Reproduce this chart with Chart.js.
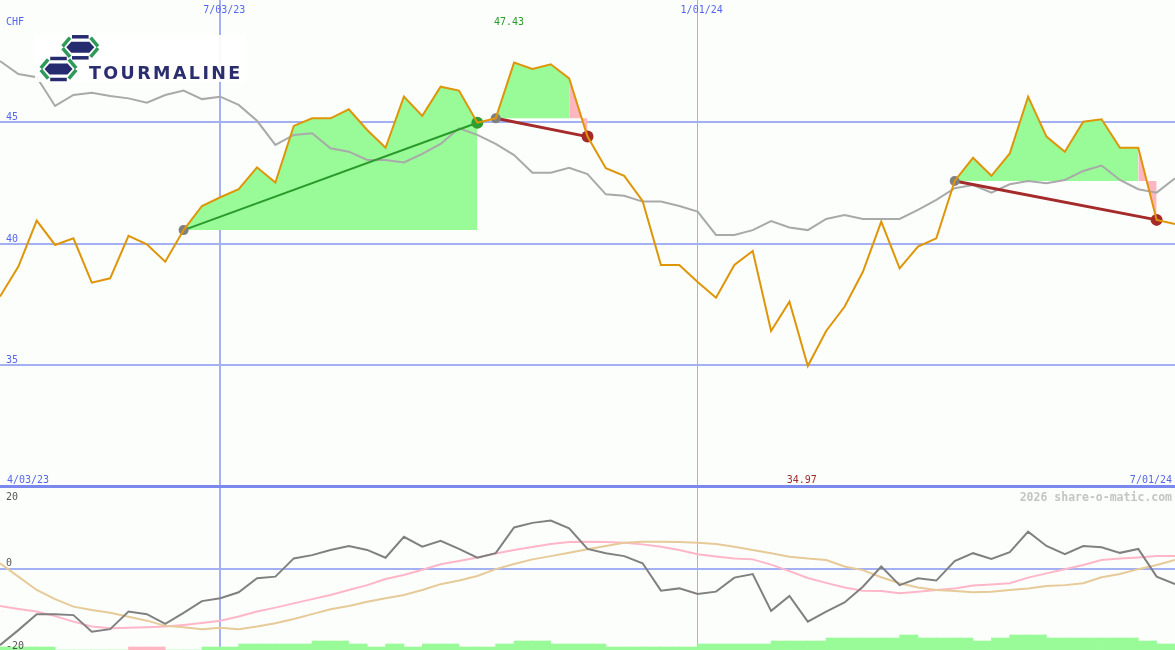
<!DOCTYPE html>
<html>
<head>
<meta charset="utf-8">
<title>Tourmaline (CHF) weekly</title>
<script src="https://cdn.jsdelivr.net/npm/chart.js@4.4.1/dist/chart.umd.min.js"></script>
<style>
  html, body { margin: 0; padding: 0; background: #fcfefc; }
  #wrap { position: relative; width: 1175px; height: 650px; overflow: hidden; background: #fcfefc; }
  #price { position: absolute; left: 0; top: 0; }
  #osc { position: absolute; left: 0; top: 487px; }
  .divider { position: absolute; left: 0; top: 485px; width: 1175px; height: 3px; background: #7b88ee; }
  .logo { position: absolute; left: 35px; top: 35px; }
</style>
</head>
<body>
<div id="wrap">
  <canvas id="price" width="1175" height="487"></canvas>
  <canvas id="osc" width="1175" height="163"></canvas>
  <div class="divider"></div>
  <svg class="logo" width="212" height="48" viewBox="0 0 212 48">
    <rect x="0" y="0" width="210" height="47" fill="#ffffff" fill-opacity="0.92"/>
    <!-- upper hexagon: diagonals green, flat edges navy -->
    <g stroke-width="3.5" fill="none">
      <line x1="27.6" y1="11.4" x2="35.0" y2="2.7" stroke="#2e9a5a"/>
      <line x1="37" y1="1.8" x2="53.6" y2="1.8" stroke="#262a6e"/>
      <line x1="55.6" y1="2.7" x2="63.0" y2="11.4" stroke="#2e9a5a"/>
      <line x1="63.0" y1="13.2" x2="55.6" y2="21.9" stroke="#2e9a5a"/>
      <line x1="53.6" y1="22.8" x2="37" y2="22.8" stroke="#262a6e"/>
      <line x1="35.0" y1="21.9" x2="27.6" y2="13.2" stroke="#2e9a5a"/>
    </g>
    <polygon points="31.3,12.3 36.3,6.8 54.3,6.8 59.3,12.3 54.3,17.8 36.3,17.8" fill="#262a6e"/>
    <!-- lower hexagon -->
    <g stroke-width="3.5" fill="none">
      <line x1="5.8" y1="33.1" x2="13.2" y2="24.4" stroke="#2e9a5a"/>
      <line x1="15.2" y1="23.5" x2="31.8" y2="23.5" stroke="#262a6e"/>
      <line x1="33.8" y1="24.4" x2="41.2" y2="33.1" stroke="#2e9a5a"/>
      <line x1="41.2" y1="34.9" x2="33.8" y2="43.6" stroke="#2e9a5a"/>
      <line x1="31.8" y1="44.5" x2="15.2" y2="44.5" stroke="#262a6e"/>
      <line x1="13.2" y1="43.6" x2="5.8" y2="34.9" stroke="#2e9a5a"/>
    </g>
    <polygon points="9.5,34 14.5,28.5 32.5,28.5 37.5,34 32.5,39.5 14.5,39.5" fill="#262a6e"/>
    <text x="54" y="44.3" font-family="DejaVu Sans, Verdana, sans-serif" font-weight="bold"
          font-size="17.5" letter-spacing="2.4" fill="#2b2e6e">TOURMALINE</text>
  </svg>
</div>

<script>
// weekly closes, CHF
const dates = [
  "4/10/23", "4/17/23", "4/24/23", "5/01/23", "5/08/23", "5/15/23", "5/22/23", "5/29/23",
  "6/05/23", "6/12/23", "6/19/23", "6/26/23", "7/03/23", "7/10/23", "7/17/23", "7/24/23",
  "7/31/23", "8/07/23", "8/14/23", "8/21/23", "8/28/23", "9/04/23", "9/11/23", "9/18/23",
  "9/25/23", "10/02/23", "10/09/23", "10/16/23", "10/23/23", "10/30/23", "11/06/23", "11/13/23",
  "11/20/23", "11/27/23", "12/04/23", "12/11/23", "12/18/23", "12/25/23", "1/01/24", "1/08/24",
  "1/15/24", "1/22/24", "1/29/24", "2/05/24", "2/12/24", "2/19/24", "2/26/24", "3/04/24",
  "3/11/24", "3/18/24", "3/25/24", "4/01/24", "4/08/24", "4/15/24", "4/22/24", "4/29/24",
  "5/06/24", "5/13/24", "5/20/24", "5/27/24", "6/03/24", "6/10/24", "6/17/24", "6/24/24",
  "7/01/24"
];
const periodStart = "4/03/23";
const gridDates = ["7/03/23", "1/01/24"];

const price = [
  37.82, 39.05, 40.94, 39.94, 40.21, 38.39, 38.57, 40.31, 39.97, 39.25,
  40.55, 41.54, 41.90, 42.23, 43.13, 42.50, 44.83, 45.14, 45.14, 45.51,
  44.66, 43.93, 46.03, 45.24, 46.44, 46.28, 44.96, 45.14, 47.43, 47.17,
  47.36, 46.78, 44.39, 43.09, 42.78, 41.75, 39.12, 39.12, 38.42, 37.77,
  39.12, 39.69, 36.41, 37.61, 34.97, 36.41, 37.40, 38.84, 40.90, 38.98,
  39.87, 40.21, 42.57, 43.52, 42.78, 43.70, 46.03, 44.39, 43.77, 45.00,
  45.10, 43.93, 43.93, 40.97, 40.80
];
const movingAvg = [
  47.49, 46.96, 46.83, 45.65, 46.10, 46.19, 46.06, 45.96, 45.78, 46.10,
  46.28, 45.93, 46.03, 45.69, 45.04, 44.05, 44.46, 44.53, 43.91, 43.77,
  43.43, 43.43, 43.33, 43.68, 44.09, 44.73, 44.46, 44.09, 43.63, 42.91,
  42.91, 43.11, 42.85, 42.02, 41.96, 41.72, 41.72, 41.54, 41.31, 40.35,
  40.35, 40.55, 40.92, 40.66, 40.55, 41.01, 41.17, 41.01, 41.01, 41.01,
  41.38, 41.79, 42.27, 42.40, 42.09, 42.43, 42.57, 42.47, 42.61, 42.98,
  43.20, 42.61, 42.23, 42.09, 42.68
];

// lower panel
const momentum = [
  -23.5, -18.9, -14.0, -14.0, -14.3, -19.4, -18.6, -13.2, -14.0, -17.0,
  -13.6, -10.0, -9.1, -7.3, -3.0, -2.5, 3.1, 4.1, 5.7, 6.9,
  5.7, 3.3, 9.7, 6.7, 8.5, 6.0, 3.3, 4.7, 12.6, 14.0,
  14.7, 12.3, 6.0, 4.7, 3.8, 1.6, -6.8, -6.1, -7.8, -7.1,
  -2.8, -1.7, -13.0, -8.4, -16.3, -13.2, -10.4, -5.6, 0.6, -5.1,
  -3.0, -3.7, 2.3, 4.7, 2.9, 5.0, 11.3, 6.9, 4.4, 6.9,
  6.5, 4.8, 6.0, -2.5, -4.8
];
const fastAvg = [
  -11.5, -12.4, -13.2, -14.6, -16.3, -17.8, -18.3, -18.2, -18.0, -17.8,
  -17.3, -16.7, -16.0, -14.7, -13.2, -12.0, -10.7, -9.4, -8.1, -6.6,
  -5.1, -3.2, -2.0, -0.4, 1.3, 2.3, 3.4, 4.6, 5.7, 6.6,
  7.5, 8.1, 8.2, 8.1, 7.9, 7.4, 6.7, 5.7, 4.4, 3.7,
  3.1, 2.8, 1.2, -0.8, -2.9, -4.4, -5.8, -6.8, -6.9, -7.6,
  -7.1, -6.6, -6.1, -5.2, -4.9, -4.5, -2.8, -1.5, -0.2, 1.1,
  2.6, 3.1, 3.4, 3.8, 3.8
];
const slowAvg = [
  1.6, -2.5, -6.6, -9.4, -11.7, -12.7, -13.6, -14.8, -16.0, -17.6,
  -18.0, -18.6, -18.2, -18.6, -17.8, -16.8, -15.5, -14.0, -12.5, -11.5,
  -10.2, -9.1, -8.1, -6.6, -4.8, -3.7, -2.3, -0.2, 1.4, 2.8,
  3.8, 4.8, 5.9, 6.9, 7.9, 8.2, 8.2, 8.1, 7.9, 7.5,
  6.7, 5.7, 4.7, 3.6, 3.1, 2.6, 0.6, -0.5, -2.7, -4.5,
  -5.8, -6.6, -6.9, -7.3, -7.1, -6.6, -6.1, -5.4, -5.1, -4.5,
  -2.7, -1.7, -0.2, 1.1, 2.6
];
// one bar per week interval, negative = down (pink)
const barLevels = [
  1, 1, 1, 0, 0, 0, 0, -1, -1, 0,
  0, 1, 1, 2, 2, 2, 2, 3, 3, 2,
  1, 2, 1, 2, 2, 1, 1, 2, 3, 3,
  2, 2, 2, 1, 1, 1, 1, 1, 2, 2,
  2, 2, 3, 3, 3, 4, 4, 4, 4, 5,
  4, 4, 4, 3, 4, 5, 5, 4, 4, 4,
  4, 4, 3, 2
];

// trend runs (week indexes)
const runStart = [10, 27, 52];
const runEnd = [26, 32, 63];

const priceTicks = [35, 40, 45];
const oscTicks = [20, 0, -20];

const BLUE = "#5566ee";
const GRID = "#a3b1f2";
const GREEN_FILL = "#98fb98";
const PINK_FILL = "#ffb6c1";
const FOREST = "#2a9a2a";
const BROWN = "#a52a2a";
const LABEL_FONT = '10px "DejaVu Sans Mono", monospace';

const seg = (arr, from, to) => arr.slice(from, to + 1).map((y, k) => ({ x: from + k, y }));
const all = arr => arr.map((y, i) => ({ x: i, y }));

const gridTickIdx = gridDates.map(d => dates.indexOf(d));

const makeXAxis = () => ({
  type: "linear",
  min: 0,
  max: dates.length - 1,
  offset: false,
  afterBuildTicks: s => { s.ticks = gridTickIdx.map(v => ({ value: v })); },
  afterFit: s => { s.height = 0; },
  ticks: { display: false },
  grid: { offset: false, color: GRID, lineWidth: c => (c.index === 0 ? 2 : 1), drawTicks: false },
  border: { display: false }
});

// ---- top panel datasets ----
const topSets = [];
runStart.forEach((from, r) => {
  const to = runEnd[r];
  const base = price[from];
  const up = price[to] > base;
  const lastGreen = up ? to : to - 1;
  topSets.push({
    data: seg(price, from, lastGreen), fill: { value: base },
    backgroundColor: GREEN_FILL, borderWidth: 0, pointRadius: 0, order: 4
  });
  if (!up) {
    topSets.push({
      data: seg(price, to - 1, to), fill: { value: base },
      backgroundColor: PINK_FILL, borderWidth: 0, pointRadius: 0, order: 4
    });
  }
  topSets.push({
    data: [{ x: from, y: base }, { x: to, y: price[to] }],
    borderColor: up ? FOREST : BROWN, borderWidth: up ? 2 : 3,
    pointRadius: [5, 6], pointBorderWidth: 0,
    pointBackgroundColor: ["#808080", up ? "#2e9e2e" : BROWN],
    fill: false, order: 1
  });
});
topSets.push({ data: all(movingAvg), borderColor: "#a9a9a9", borderWidth: 2, pointRadius: 0, fill: false, order: 2 });
topSets.push({ data: all(price), borderColor: "#df9508", borderWidth: 2, pointRadius: 0, fill: false, order: 0 });

const topLabels = {
  id: "topLabels",
  afterDraw(chart) {
    const { ctx, scales: { x, y } } = chart;
    ctx.save();
    ctx.font = LABEL_FONT;
    ctx.textBaseline = "alphabetic";
    ctx.fillStyle = BLUE;
    ctx.textAlign = "left";
    ctx.fillText("CHF", 6, 25);
    priceTicks.forEach(v => ctx.fillText(String(v), 6, y.getPixelForValue(v) - 2));
    ctx.fillText(periodStart, 7, 483);
    ctx.textAlign = "right";
    ctx.fillText(dates[dates.length - 1], 1172, 483);
    ctx.textAlign = "center";
    gridDates.forEach((d, k) => ctx.fillText(d, x.getPixelForValue(gridTickIdx[k]) + 4, 13));
    const hi = price.indexOf(Math.max(...price));
    const lo = price.indexOf(Math.min(...price));
    ctx.fillStyle = FOREST;
    ctx.fillText(price[hi].toFixed(2), x.getPixelForValue(hi) - 5, 25);
    ctx.fillStyle = BROWN;
    ctx.fillText(price[lo].toFixed(2), x.getPixelForValue(lo) - 6, 483);
    ctx.restore();
  }
};

new Chart(document.getElementById("price"), {
  type: "line",
  data: { datasets: topSets },
  options: {
    responsive: false,
    animation: false,
    devicePixelRatio: 1,
    layout: { padding: 0, autoPadding: false },
    plugins: { legend: { display: false }, tooltip: { enabled: false } },
    elements: { line: { tension: 0, borderJoinStyle: "miter" } },
    scales: {
      x: makeXAxis(),
      y: {
        min: 30, max: 50,
        afterBuildTicks: s => { s.ticks = priceTicks.map(v => ({ value: v })); },
        afterFit: s => { s.width = 0; },
        ticks: { display: false },
        grid: { color: GRID, lineWidth: 2, drawTicks: false },
        border: { display: false }
      }
    }
  },
  plugins: [topLabels]
});

// ---- lower panel ----
const oscLabels = {
  id: "oscLabels",
  afterDraw(chart) {
    const { ctx, scales: { y }, chartArea } = chart;
    ctx.save();
    ctx.font = 'bold 11.5px "DejaVu Sans Mono", monospace';
    ctx.fillStyle = "#c4c4c4";
    ctx.textAlign = "right";
    ctx.fillText("2026 share-o-matic.com", 1172, 14);
    ctx.font = LABEL_FONT;
    ctx.fillStyle = "#555555";
    ctx.textAlign = "left";
    oscTicks.forEach(v => {
      let py = y.getPixelForValue(v) - 2.5;
      if (v > 0) py = chartArea.top + 12.5;
      if (v < 0) py = chartArea.bottom - 1.5;
      ctx.fillText(String(v), 6, py);
    });
    ctx.restore();
  }
};

new Chart(document.getElementById("osc"), {
  type: "line",
  data: {
    datasets: [
      { data: all(momentum), borderColor: "#808080", borderWidth: 2, pointRadius: 0, fill: false, order: 0 },
      { data: all(fastAvg), borderColor: "#ffb6c8", borderWidth: 2, pointRadius: 0, fill: false, order: 2 },
      { data: all(slowAvg), borderColor: "#e6ca98", borderWidth: 2, pointRadius: 0, fill: false, order: 1 },
      {
        type: "bar", yAxisID: "yb", order: 5,
        data: barLevels.map((v, i) => ({ x: i + 0.5, y: Math.abs(v) })),
        backgroundColor: barLevels.map(v => (v < 0 ? PINK_FILL : GREEN_FILL)),
        barPercentage: 1, categoryPercentage: 1, borderWidth: 0
      }
    ]
  },
  options: {
    responsive: false,
    animation: false,
    devicePixelRatio: 1,
    layout: { padding: 0, autoPadding: false },
    plugins: { legend: { display: false }, tooltip: { enabled: false } },
    elements: { line: { tension: 0 } },
    scales: {
      x: makeXAxis(),
      y: {
        min: -25, max: 25,
        afterBuildTicks: s => { s.ticks = [{ value: 0 }]; },
        afterFit: s => { s.width = 0; },
        ticks: { display: false },
        grid: { color: GRID, lineWidth: 2, drawTicks: false },
        border: { display: false }
      },
      yb: {
        display: false, min: 0, max: 54.3
      }
    }
  },
  plugins: [oscLabels]
});
</script>
</body>
</html>
